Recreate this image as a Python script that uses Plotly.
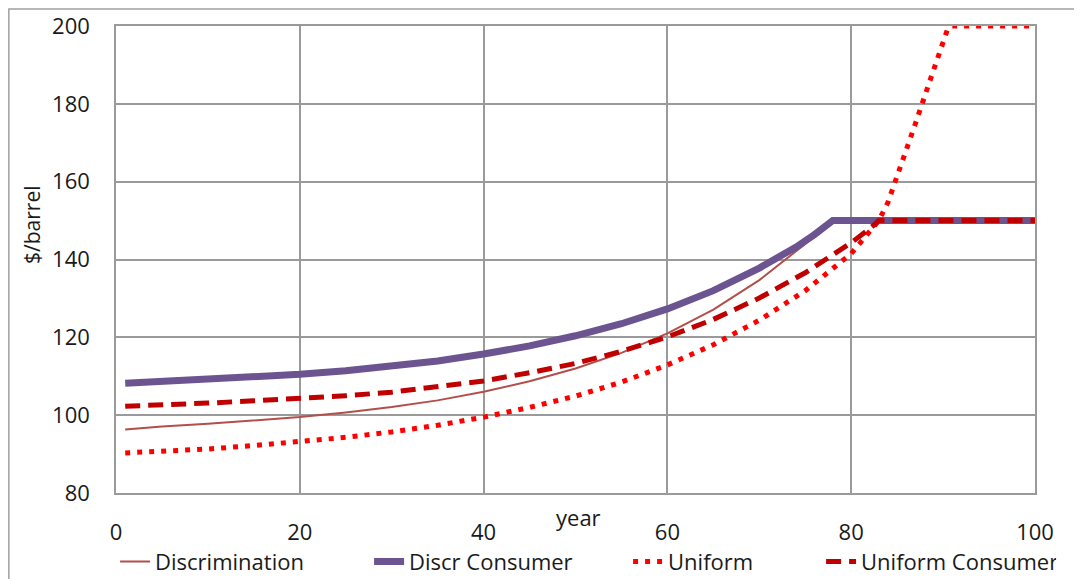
import plotly.graph_objects as go

# ---- data ----
disc_x = [1, 5, 10, 15, 20, 25, 30, 35, 40, 45, 50, 55, 60, 65, 70, 75, 78, 100]
disc_y = [96.3, 97.1, 97.8, 98.6, 99.5, 100.7, 102.1, 103.8, 106.0, 108.7, 112.0, 116.0, 121.0, 127.1, 134.7, 144.0, 150.0, 150.0]

dcons_x = [1, 5, 10, 15, 20, 25, 30, 35, 40, 45, 50, 55, 60, 65, 70, 72, 74, 76, 78, 100]
dcons_y = [108.2, 108.6, 109.2, 109.8, 110.5, 111.4, 112.5, 113.9, 115.7, 117.8, 120.4, 123.5, 127.3, 132.0, 137.8, 140.3, 143.2, 146.4, 150.0, 150.0]

unif_x = [1, 5, 10, 15, 20, 25, 30, 35, 40, 45, 50, 55, 60, 65, 70, 75, 80, 81, 82, 83, 84, 85, 86, 87, 88, 89, 90, 90.5, 91, 100]
unif_y = [90.3, 90.7, 91.3, 92.2, 93.1, 94.3, 95.7, 97.4, 99.5, 102.0, 104.9, 108.5, 112.9, 118.1, 124.4, 132.0, 141.5, 144.5, 147.2, 150.0, 154.7, 161.2, 168.2, 175.0, 182.0, 189.2, 196.3, 199.3, 200.0, 200.0]

ucons_x = [1, 5, 10, 15, 20, 25, 30, 35, 40, 45, 50, 55, 60, 65, 70, 75, 78, 80, 82, 83, 100]
ucons_y = [102.3, 102.6, 103.1, 103.7, 104.3, 105.0, 105.9, 107.2, 108.8, 110.9, 113.3, 116.4, 120.1, 124.6, 130.1, 136.6, 141.3, 144.3, 147.9, 150.0, 150.0]

names = ["Discrimination", "Discr Consumer", "Uniform", "Uniform Consumer"]

x_ticks = [0, 20, 40, 60, 80, 100]
y_ticks = [80, 100, 120, 140, 160, 180, 200]

FONT = "Open Sans, Liberation Sans, sans-serif"
GRID = "#9a9a9a"

fig = go.Figure()
fig.add_trace(go.Scatter(x=disc_x, y=disc_y, mode="lines", name=names[0],
                         line=dict(color="#B24F4B", width=2), legendwidth=209))
fig.add_trace(go.Scatter(x=dcons_x, y=dcons_y, mode="lines", name=names[1],
                         line=dict(color="#6C5491", width=7), legendwidth=214))
fig.add_trace(go.Scatter(x=unif_x, y=unif_y, mode="lines", name=names[2],
                         line=dict(color="#FF0000", width=5, dash="5px,7px"), legendwidth=148))
fig.add_trace(go.Scatter(x=ucons_x, y=ucons_y, mode="lines", name=names[3],
                         line=dict(color="#C00000", width=5, dash="15px,8px"), legendwidth=190))

# page body has an 8px margin, so the figure is sized/offset to compensate
fig.update_layout(
    width=1074, height=571,
    margin=dict(l=108, r=47, t=18, b=86, autoexpand=False),
    paper_bgcolor="white", plot_bgcolor="white",
    font=dict(family=FONT, size=22, color="#1a1a1a"),
    showlegend=True,
    legend=dict(orientation="h", x=-0.001, xanchor="left", y=-0.147, yanchor="middle",
                font=dict(size=22), bgcolor="rgba(0,0,0,0)", tracegroupgap=0),
    xaxis=dict(range=[0, 100], tickvals=x_ticks, showgrid=True, gridcolor=GRID, gridwidth=1.6,
               showline=True, linecolor=GRID, linewidth=1.6, mirror=True, zeroline=False,
               ticks="", ticklabelstandoff=19, tickfont=dict(size=22)),
    yaxis=dict(range=[80, 200], tickvals=y_ticks, showgrid=True, gridcolor=GRID, gridwidth=1.6,
               showline=True, linecolor=GRID, linewidth=1.6, mirror=True, zeroline=False,
               ticks="", ticklabelstandoff=20, tickfont=dict(size=22)),
    annotations=[
        dict(text="year", xref="paper", yref="paper", x=0.503, y=-0.051,
             xanchor="center", yanchor="middle", showarrow=False, font=dict(size=22)),
        dict(text="$/barrel", xref="paper", yref="paper", x=-0.0914, y=0.574, textangle=-90,
             xanchor="center", yanchor="middle", showarrow=False, font=dict(size=21)),
    ],
    shapes=[
        dict(type="rect", xref="paper", yref="paper", x0=-0.1166, y0=-0.25, x1=1.08, y1=1.0364,
             line=dict(color="#a0a0a0", width=1.5), fillcolor="rgba(0,0,0,0)", layer="below"),
    ],
)

fig.write_html("out.html")
